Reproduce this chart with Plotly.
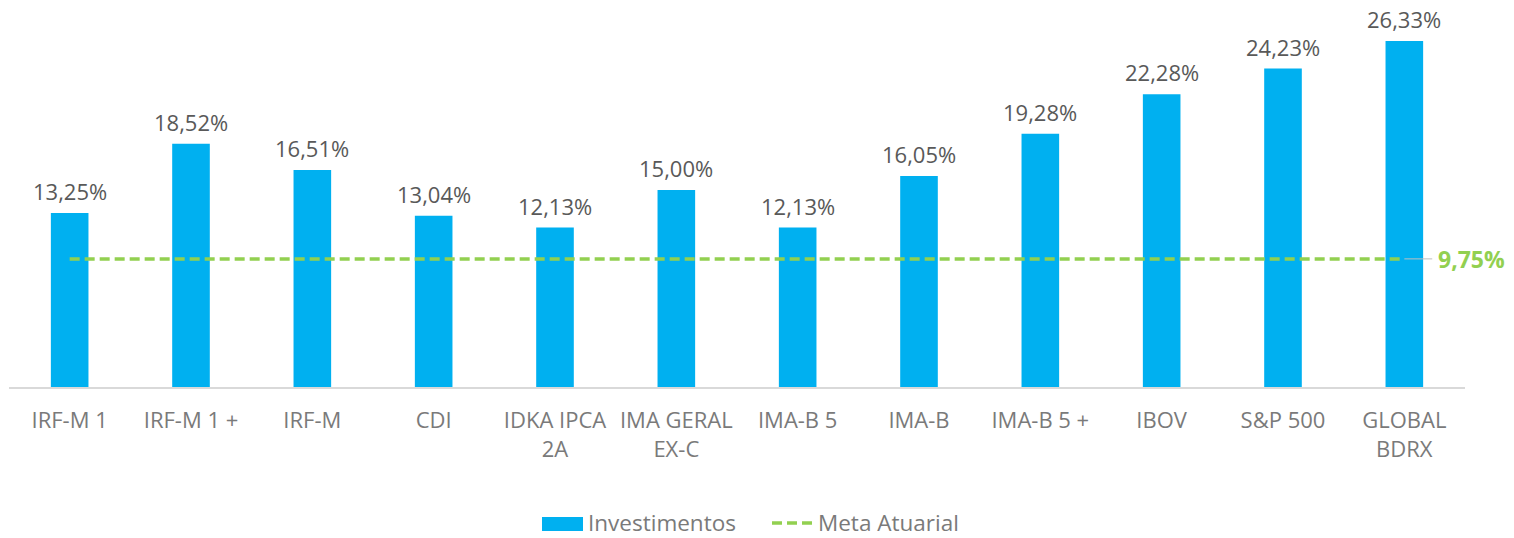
import plotly.graph_objects as go

categories = ["IRF-M 1", "IRF-M 1 +", "IRF-M", "CDI", "IDKA IPCA<br>2A", "IMA GERAL<br>EX-C",
              "IMA-B 5", "IMA-B", "IMA-B 5 +", "IBOV", "S&P 500", "GLOBAL<br>BDRX"]
investimentos = [13.25, 18.52, 16.51, 13.04, 12.13, 15.00, 12.13, 16.05, 19.28, 22.28, 24.23, 26.33]
meta_atuarial = 9.75

BLUE = "#00B0F0"
GREEN = "#92D050"
LABEL = "#595959"
TICK = "#7A7A7A"

def fmt(v):
    return f"{v:.2f}".replace(".", ",") + "%"

fig = go.Figure()
fig.add_trace(go.Bar(
    x=categories, y=investimentos, name="Investimentos",
    marker=dict(color=BLUE, line=dict(width=0)),
    showlegend=False,
))
fig.add_trace(go.Scatter(
    x=categories, y=[meta_atuarial] * len(categories), name="Meta Atuarial",
    mode="lines", line=dict(color=GREEN, width=3.5, dash="10px,5px"), showlegend=False,
))

# data labels above the bars
for c, v in zip(categories, investimentos):
    fig.add_annotation(x=c, y=v, xref="x", yref="y", text=fmt(v), showarrow=False,
                       xanchor="center", yanchor="bottom", yshift=5,
                       font=dict(size=22, color=LABEL))

n = len(categories)
fig.add_shape(type="line", xref="x", yref="y", x0=n - 1, x1=n - 1 + 0.23,
              y0=meta_atuarial, y1=meta_atuarial, line=dict(color="#BFBFBF", width=1))
fig.add_annotation(x=n - 1 + 0.26, y=meta_atuarial, xref="x", yref="y",
                   text="<b>" + fmt(meta_atuarial) + "</b>", showarrow=False,
                   xanchor="left", yanchor="middle",
                   font=dict(size=23, color=GREEN))

# manual legend (plot area: x 9..1465 px, y 10..387 px)
def px_x(p):
    return (p - 9) / 1456.0

def px_y(p):
    return (387 - p) / 377.0

fig.add_shape(type="rect", xref="paper", yref="paper",
              x0=px_x(542), x1=px_x(583), y0=px_y(531), y1=px_y(517),
              fillcolor=BLUE, line=dict(width=0))
fig.add_annotation(x=px_x(587), y=px_y(522), xref="paper", yref="paper",
                   text="Investimentos", showarrow=False, xanchor="left", yanchor="middle",
                   borderpad=0, font=dict(size=22.5, color=TICK))
fig.add_shape(type="line", xref="paper", yref="paper",
              x0=px_x(772), x1=px_x(812), y0=px_y(523), y1=px_y(523),
              line=dict(color=GREEN, width=3.5, dash="10px,5px"))
fig.add_annotation(x=px_x(817), y=px_y(522), xref="paper", yref="paper",
                   text="Meta Atuarial", showarrow=False, xanchor="left", yanchor="middle",
                   borderpad=0, font=dict(size=22.5, color=TICK))

fig.update_layout(
    width=1514, height=538,
    margin=dict(l=9, r=49, t=10, b=151),
    paper_bgcolor="white", plot_bgcolor="white",
    font=dict(family="Open Sans", size=22, color=LABEL),
    bargap=0.69,
    showlegend=False,
    xaxis=dict(showline=True, linecolor="#D9D9D9", linewidth=2, ticks="",
               range=[-0.5, n - 0.5], ticklabelstandoff=13,
               tickfont=dict(size=22, color=TICK), showgrid=False),
    yaxis=dict(visible=False, range=[0, 28.69], showgrid=False, zeroline=False),
)

fig.write_html("out.html")
